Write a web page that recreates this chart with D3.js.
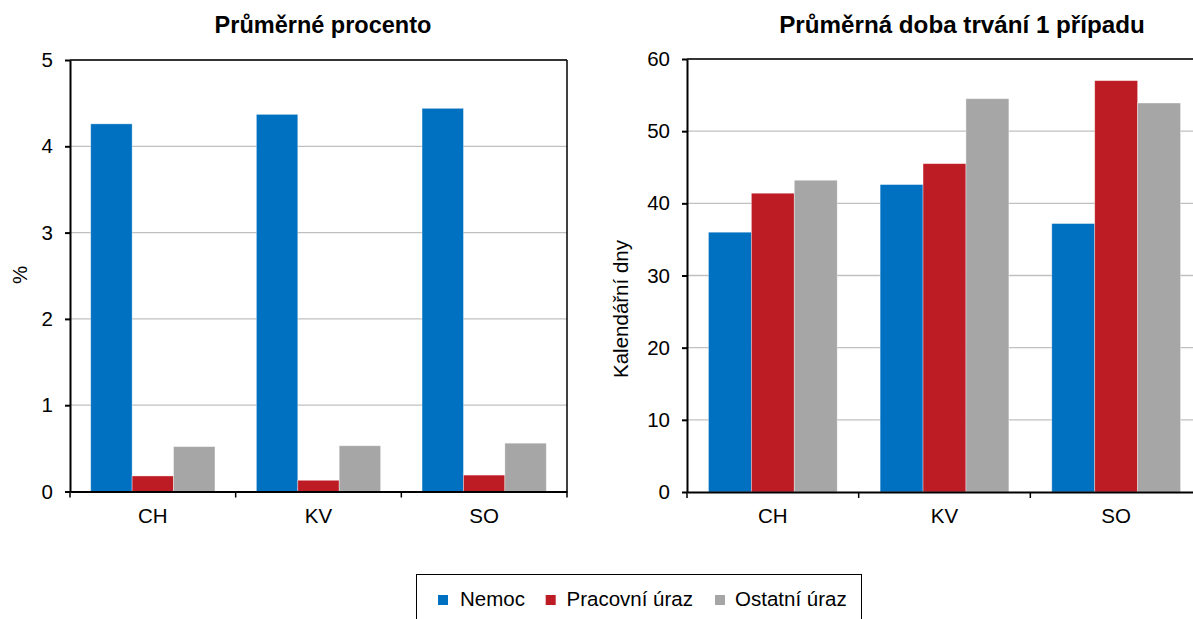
<!DOCTYPE html>
<html><head><meta charset="utf-8">
<script src="https://cdn.jsdelivr.net/npm/d3@7"></script>
<style>
body{margin:0;background:#fff;}
text{font-family:"Liberation Sans",Arial,sans-serif;fill:#000;}
</style></head>
<body><svg id="c" width="1193" height="619"></svg>
<script>
const categories = ["CH","KV","SO"];
const seriesNames = ["Nemoc","Pracovní úraz","Ostatní úraz"];
const colors = ["#0070C0","#BE1C24","#A6A6A6"];
const pctNemoc = [4.26, 4.37, 4.44];
const pctPracovni = [0.18, 0.13, 0.19];
const pctOstatni = [0.52, 0.53, 0.56];
const daysNemoc = [36.0, 42.6, 37.2];
const daysPracovni = [41.4, 45.5, 57.0];
const daysOstatni = [43.2, 54.5, 53.9];
const pctTicks = [0,1,2,3,4,5];
const dayTicks = [0,10,20,30,40,50,60];

const FS = "20.5px";
const svg = d3.select("#c");

function panel(cfg){
  const g = svg.append("g");
  const x = d3.scaleBand().domain(categories).range([cfg.x0, cfg.x1]).paddingInner(0).paddingOuter(0);
  const xs = d3.scaleBand().domain(d3.range(3)).range([0, x.bandwidth()]).paddingInner(0).paddingOuter(0.5);
  const y = d3.scaleLinear().domain(cfg.domain).range([cfg.y1, cfg.y0]);
  // grid
  g.append("g").selectAll("line").data(cfg.ticks.slice(1)).join("line")
    .attr("x1", cfg.x0).attr("x2", cfg.x1).attr("y1", d=>y(d)).attr("y2", d=>y(d))
    .attr("stroke","#c0c0c0").attr("stroke-width",1.3);
  // bars
  const data = [];
  categories.forEach((c,i)=>cfg.series.forEach((s,j)=>data.push({c, j, v:s[i]})));
  g.append("g").selectAll("rect").data(data).join("rect")
    .attr("x", d=>x(d.c)+xs(d.j)).attr("width", xs.bandwidth())
    .attr("y", d=>y(d.v)).attr("height", d=>y(0)-y(d.v))
    .attr("fill", d=>colors[d.j]).attr("stroke","rgba(255,255,255,0.45)").attr("stroke-width",0.8);
  // frame
  g.append("line").attr("x1",cfg.x0).attr("x2",cfg.x1).attr("y1",cfg.y0).attr("y2",cfg.y0).attr("stroke","#000").attr("stroke-width",1.5);
  g.append("line").attr("x1",cfg.x1).attr("x2",cfg.x1).attr("y1",cfg.y0).attr("y2",cfg.y1).attr("stroke","#000").attr("stroke-width",1.5);
  // y axis
  const ya = g.append("g").attr("transform",`translate(${cfg.x0},0)`)
    .call(d3.axisLeft(y).tickValues(cfg.ticks).tickFormat(d3.format("d")).tickSize(5).tickPadding(12).tickSizeOuter(0));
  ya.select(".domain").attr("stroke","#000").attr("stroke-width",2);
  ya.selectAll(".tick line").attr("stroke","#000").attr("stroke-width",2);
  ya.selectAll("text").style("font-size",FS).style("font-family","Liberation Sans, Arial, sans-serif");
  // x axis
  const xa = g.append("g").attr("transform",`translate(0,${cfg.y1})`)
    .call(d3.axisBottom(x).tickSize(0).tickPadding(16.5).tickSizeOuter(0));
  xa.select(".domain").attr("stroke","#000").attr("stroke-width",2.2);
  xa.selectAll("text").style("font-size",FS).style("font-family","Liberation Sans, Arial, sans-serif");
  // category boundary ticks
  const bounds = categories.map(c=>x(c)).concat([cfg.x1]);
  g.append("g").selectAll("line").data(bounds).join("line")
    .attr("x1",d=>d).attr("x2",d=>d).attr("y1",cfg.y1).attr("y2",cfg.y1+6)
    .attr("stroke","#000").attr("stroke-width",1.5);
  // title
  g.append("text").attr("x",cfg.tx).attr("y",33).attr("text-anchor","middle")
    .style("font-size",cfg.tfs).style("font-weight","bold").text(cfg.title);
  // y label
  g.append("text").attr("transform",`translate(${cfg.lx},${cfg.ly}) rotate(-90)`)
    .attr("text-anchor","middle").style("font-size",FS).text(cfg.ylabel);
}

panel({x0:70, x1:567, y0:60, y1:491.5, domain:[0,5], ticks:pctTicks,
  series:[pctNemoc,pctPracovni,pctOstatni], title:"Průměrné procento", tx:323, tfs:"23.5px",
  ylabel:"%", lx:27, ly:275});
panel({x0:687, x1:1202, y0:59, y1:492, domain:[0,60], ticks:dayTicks,
  series:[daysNemoc,daysPracovni,daysOstatni], title:"Průměrná doba trvání 1 případu", tx:962, tfs:"24.2px",
  ylabel:"Kalendářní dny", lx:628, ly:309});

// legend
const lg = svg.append("g");
lg.append("rect").attr("x",416.5).attr("y",574.5).attr("width",445).attr("height",70)
  .attr("fill","#fff").attr("stroke","#000").attr("stroke-width",1);
const lsq = [438, 545.7, 715];
const ltx = [460, 566.5, 735];
seriesNames.forEach((n,i)=>{
  lg.append("rect").attr("x",lsq[i]).attr("y",595).attr("width",10).attr("height",10).attr("fill",colors[i]);
  lg.append("text").attr("x",ltx[i]).attr("y",606).style("font-size",FS).text(n);
});
</script></body></html>
